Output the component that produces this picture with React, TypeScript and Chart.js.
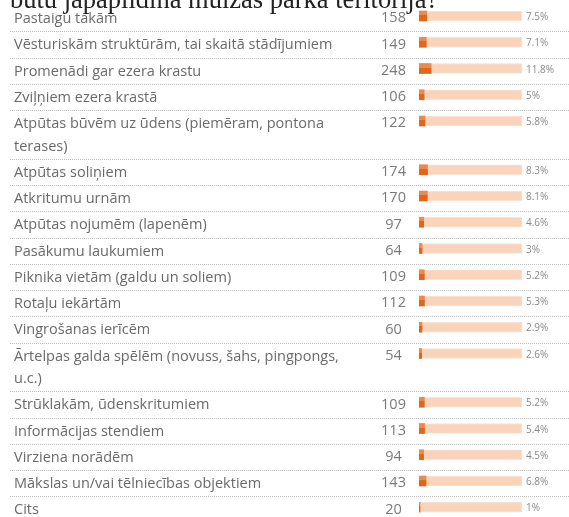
import React, { useEffect, useRef } from "react";
import { Chart, registerables } from "chart.js";

Chart.register(...registerables);

const titleText = "būtu jāpapildina muižas parka teritorijā?";

const categories: string[][] = [
  ["Pastaigu takām"],
  ["Vēsturiskām struktūrām, tai skaitā stādījumiem"],
  ["Promenādi gar ezera krastu"],
  ["Zviļņiem ezera krastā"],
  ["Atpūtas būvēm uz ūdens (piemēram, pontona", "terases)"],
  ["Atpūtas soliņiem"],
  ["Atkritumu urnām"],
  ["Atpūtas nojumēm (lapenēm)"],
  ["Pasākumu laukumiem"],
  ["Piknika vietām (galdu un soliem)"],
  ["Rotaļu iekārtām"],
  ["Vingrošanas ierīcēm"],
  ["Ārtelpas galda spēlēm (novuss, šahs, pingpongs,", "u.c.)"],
  ["Strūklakām, ūdenskritumiem"],
  ["Informācijas stendiem"],
  ["Virziena norādēm"],
  ["Mākslas un/vai tēlniecības objektiem"],
  ["Cits"],
];

const counts: number[] = [158, 149, 248, 106, 122, 174, 170, 97, 64, 109, 112, 60, 54, 109, 113, 94, 143, 20];

const percents: number[] = [7.5, 7.1, 11.8, 5, 5.8, 8.3, 8.1, 4.6, 3, 5.2, 5.3, 2.9, 2.6, 5.2, 5.4, 4.5, 6.8, 1];

const trackMax = 100;

// layout constants (pixels)
const W = 569;
const H = 517;
const ROW_H = 26.25;
const LINE_H = 22.5;
const FIRST_TOP = 5.5;
const CENTER_OFF = 10.5;

const rowTops: number[] = [];
{
  let t = FIRST_TOP;
  for (const c of categories) {
    rowTops.push(t);
    t += ROW_H + (c.length - 1) * LINE_H;
  }
}
const rowCenters = rowTops.map((t) => t + CENTER_OFF);
const rowBottoms = categories.map((c, i) => rowTops[i] + ROW_H + (c.length - 1) * LINE_H);

const LABEL_FONT = '"Open Sans", "Noto Sans", sans-serif';

const fmtPct = (p: number) => (Number.isInteger(p) ? `${p}%` : `${p.toFixed(1)}%`);

const tablePlugin = {
  id: "tableText",
  beforeDatasetsDraw(chart: any) {
    const ctx = chart.ctx as CanvasRenderingContext2D;
    const y = chart.scales.y;
    ctx.save();
    // title, cut off at the top edge as in the source page
    ctx.fillStyle = "#222";
    ctx.font = '26.5px "Liberation Serif", serif';
    ctx.textBaseline = "alphabetic";
    ctx.textAlign = "left";
    ctx.fillText(titleText, 10, 7.5);

    ctx.strokeStyle = "#bdbdbd";
    ctx.lineWidth = 1;
    ctx.setLineDash([1, 1]);
    for (let i = 0; i < categories.length - 1; i++) {
      const py = Math.floor(y.getPixelForValue(rowBottoms[i])) + 0.5;
      ctx.beginPath();
      ctx.moveTo(10, py);
      ctx.lineTo(W, py);
      ctx.stroke();
    }
    ctx.restore();
  },
  afterDraw(chart: any) {
    const ctx = chart.ctx as CanvasRenderingContext2D;
    const y = chart.scales.y;
    ctx.save();
    ctx.textBaseline = "alphabetic";
    categories.forEach((lines, i) => {
      const cy = y.getPixelForValue(rowCenters[i]);
      ctx.textAlign = "left";
      ctx.fillStyle = "#6a6a6a";
      ctx.font = `14.5px ${LABEL_FONT}`;
      lines.forEach((ln, k) => ctx.fillText(ln, 14, cy + 7 + k * LINE_H));
      ctx.textAlign = "center";
      ctx.fillStyle = "#7a7a7a";
      ctx.font = `14.5px ${LABEL_FONT}`;
      ctx.fillText(String(counts[i]), 393.5, cy + 6.3);
      ctx.textAlign = "left";
      ctx.fillStyle = "#8a8a8a";
      ctx.font = `10px ${LABEL_FONT}`;
      ctx.fillText(fmtPct(percents[i]), 526, cy + 4);
    });
    ctx.restore();
  },
};

export default function App() {
  const ref = useRef<HTMLCanvasElement | null>(null);
  useEffect(() => {
    if (!ref.current) return;
    const chart = new Chart(ref.current, {
      type: "bar",
      data: {
        datasets: [
          {
            label: "Procenti",
            data: percents.map((p, i) => ({ x: p, y: rowCenters[i] })),
            backgroundColor: (c: any) => {
              const chartObj = c.chart;
              const sy = chartObj && chartObj.scales && chartObj.scales.y;
              if (!sy || c.dataIndex === undefined) return "#e0661a";
              const py = sy.getPixelForValue(rowCenters[c.dataIndex]);
              if (!Number.isFinite(py)) return "#e0661a";
              const g = chartObj.ctx.createLinearGradient(0, py - 5, 0, py + 5);
              g.addColorStop(0, "#ec8a4d");
              g.addColorStop(0.42, "#ec8a4d");
              g.addColorStop(0.42, "#e0661a");
              g.addColorStop(1, "#e0661a");
              return g;
            },
            barThickness: 10,
            grouped: false,
            borderWidth: 0,
          } as any,
          {
            label: "Fons",
            data: percents.map((_, i) => ({ x: trackMax, y: rowCenters[i] })),
            backgroundColor: "#f9d3ba",
            borderColor: "#fbe2d2",
            borderWidth: 1,
            barThickness: 10,
            grouped: false,
          } as any,
        ],
      },
      options: {
        indexAxis: "y",
        responsive: false,
        animation: false,
        devicePixelRatio: 1,
        layout: { padding: { left: 419, right: W - 522, top: 0, bottom: 0 } },
        plugins: { legend: { display: false }, tooltip: { enabled: false }, title: { display: false } },
        scales: {
          x: { type: "linear", min: 0, max: trackMax, display: false, offset: false },
          y: {
            type: "linear",
            min: 0,
            max: H,
            reverse: true,
            display: false,
            offset: false,
            grace: 0,
            grid: { offset: false },
          },
        },
      } as any,
      plugins: [tablePlugin],
    });
    return () => chart.destroy();
  }, []);
  return (
    <div style={{ position: "fixed", left: 0, top: 0, width: W, height: H, overflow: "hidden", background: "#fff" }}>
      <canvas ref={ref} width={W} height={H} style={{ width: W, height: H, display: "block" }} />
    </div>
  );
}
